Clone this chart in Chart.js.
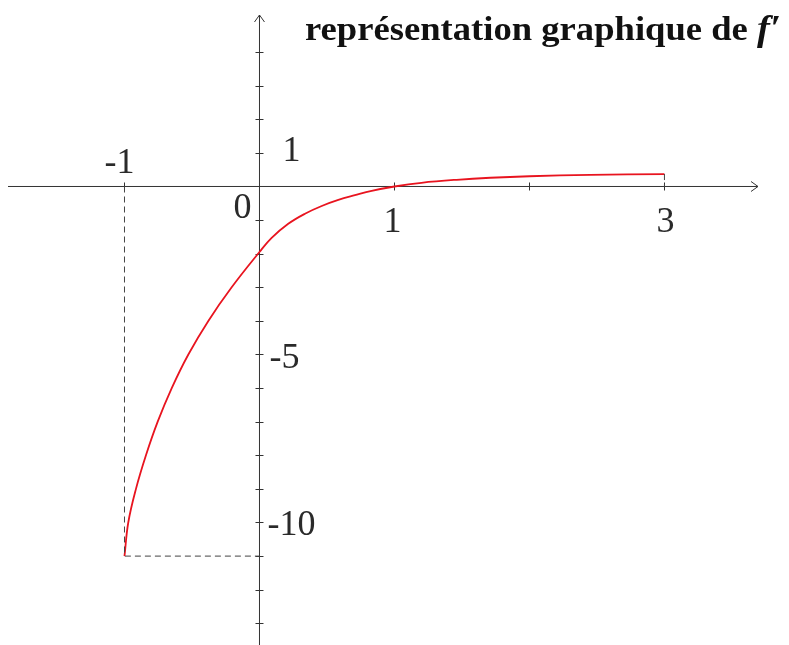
<!DOCTYPE html>
<html>
<head>
<meta charset="utf-8">
<script src="https://cdn.jsdelivr.net/npm/chart.js@4"></script>
<style>
  html, body { margin: 0; padding: 0; background: #fff; }
  #wrap { width: 789px; height: 645px; }
</style>
</head>
<body>
<div id="wrap"><canvas id="chart"></canvas></div>
<script>
(function() {

    // curve of f'
    const curveX = [-1, -0.972, -0.915, -0.841, -0.754, -0.65, -0.527, -0.379, -0.206, 0, 0.09, 0.213, 0.337, 0.461, 0.584, 0.707, 0.831, 1, 1.2, 1.46, 1.71, 2, 2.45, 3];
    const curveY = [-11, -10, -9, -8, -7, -6, -5, -4, -3, -1.95, -1.53, -1.11, -0.81, -0.58, -0.40, -0.26, -0.13, 0, 0.11, 0.2, 0.26, 0.305, 0.345, 0.37];

    // dashed guides
    const guideX = [-1, -1, 0];
    const guideY = [0, -11, -11];
    const endGuideX = [3, 3];
    const endGuideY = [0.37, 0];

    const xTicks = [-1, 1, 2, 3];
    const yTicks = [-13, -12, -11, -10, -9, -8, -7, -6, -5, -4, -3, -2, -1, 1, 2, 3, 4];
    const xTickLabels = { '-1': '-1', '1': '1', '3': '3' };
    const yTickLabels = { '1': '1', '-5': '-5', '-10': '-10' };
    const title = 'représentation graphique de ';
    const titleFn = 'f\u2032';

    const pts = (xs, ys) => xs.map((x, i) => ({ x: x, y: ys[i] }));

    const axesPlugin = {
        id: 'axes',
        beforeDatasetsDraw(chart) {
            const ctx = chart.ctx;
            const xs = chart.scales.x, ys = chart.scales.y;
            const x0 = xs.getPixelForValue(0), y0 = ys.getPixelForValue(0);
            const area = chart.chartArea;
            ctx.save();
            ctx.strokeStyle = '#333';
            ctx.lineWidth = 1;
            ctx.beginPath();
            // x axis + arrow
            ctx.moveTo(area.left, y0); ctx.lineTo(area.right, y0);
            ctx.moveTo(area.right - 7, y0 - 5); ctx.lineTo(area.right, y0); ctx.lineTo(area.right - 7, y0 + 5);
            // y axis + arrow
            ctx.moveTo(x0, area.bottom); ctx.lineTo(x0, area.top);
            ctx.moveTo(x0 - 5, area.top + 7); ctx.lineTo(x0, area.top); ctx.lineTo(x0 + 5, area.top + 7);
            xTicks.forEach(v => {
                const p = Math.round(xs.getPixelForValue(v)) + 0.5;
                ctx.moveTo(p, y0 - 4); ctx.lineTo(p, y0 + 4);
            });
            yTicks.forEach(v => {
                const p = Math.round(ys.getPixelForValue(v)) + 0.5;
                ctx.moveTo(x0 - 4, p); ctx.lineTo(x0 + 4, p);
            });
            ctx.stroke();

            ctx.fillStyle = '#2a2a2a';
            ctx.font = '36px "Liberation Serif", "DejaVu Serif", serif';
            ctx.textAlign = 'center';
            ctx.textBaseline = 'alphabetic';
            ctx.fillText(xTickLabels['-1'], xs.getPixelForValue(-1) - 5, y0 - 13);
            ctx.fillText(xTickLabels['1'], xs.getPixelForValue(1) - 2, y0 + 46);
            ctx.fillText(xTickLabels['3'], xs.getPixelForValue(3) + 1, y0 + 46);
            ctx.fillText('0', x0 - 17, y0 + 32);
            ctx.textAlign = 'left';
            ctx.fillText(yTickLabels['1'], x0 + 23, ys.getPixelForValue(1) + 8);
            ctx.fillText(yTickLabels['-5'], x0 + 10, ys.getPixelForValue(-5) + 14);
            ctx.fillText(yTickLabels['-10'], x0 + 8, ys.getPixelForValue(-10) + 13);

            // title, stretched a little like the wide bold TeX face
            ctx.fillStyle = '#111';
            ctx.font = 'bold 33px "Liberation Serif", "DejaVu Serif", serif';
            const w = ctx.measureText(title).width;
            const sx = 452 / w;
            ctx.translate(305, 40);
            ctx.scale(sx, 1);
            ctx.fillText(title, 0, 0);
            ctx.font = 'italic bold 35px "Liberation Serif", "DejaVu Serif", serif';
            ctx.fillText(titleFn, w, 0);
            ctx.restore();
        }
    };

    new Chart(document.getElementById('chart'), {
        type: 'scatter',
        data: {
            datasets: [{
                data: pts(guideX, guideY),
                showLine: true,
                borderColor: '#444',
                borderWidth: 1,
                borderDash: [6, 4],
                pointRadius: 0
            }, {
                data: pts(endGuideX, endGuideY),
                showLine: true,
                borderColor: '#444',
                borderWidth: 1,
                borderDash: [6, 4],
                pointRadius: 0
            }, {
                data: pts(curveX, curveY),
                showLine: true,
                borderColor: '#e8141f',
                borderWidth: 1.8,
                tension: 0.4,
                pointRadius: 0
            }]
        },
        options: {
            responsive: true,
            maintainAspectRatio: false,
            animation: false,
            layout: { padding: { left: 8, right: 31, top: 15, bottom: 0 } },
            plugins: { legend: { display: false }, tooltip: { enabled: false } },
            scales: {
                x: { type: 'linear', display: false, min: -1.863, max: 3.693 },
                y: { type: 'linear', display: false, min: -13.646, max: 5.104 }
            }
        },
        plugins: [axesPlugin]
    });

})();
</script>
</body>
</html>
